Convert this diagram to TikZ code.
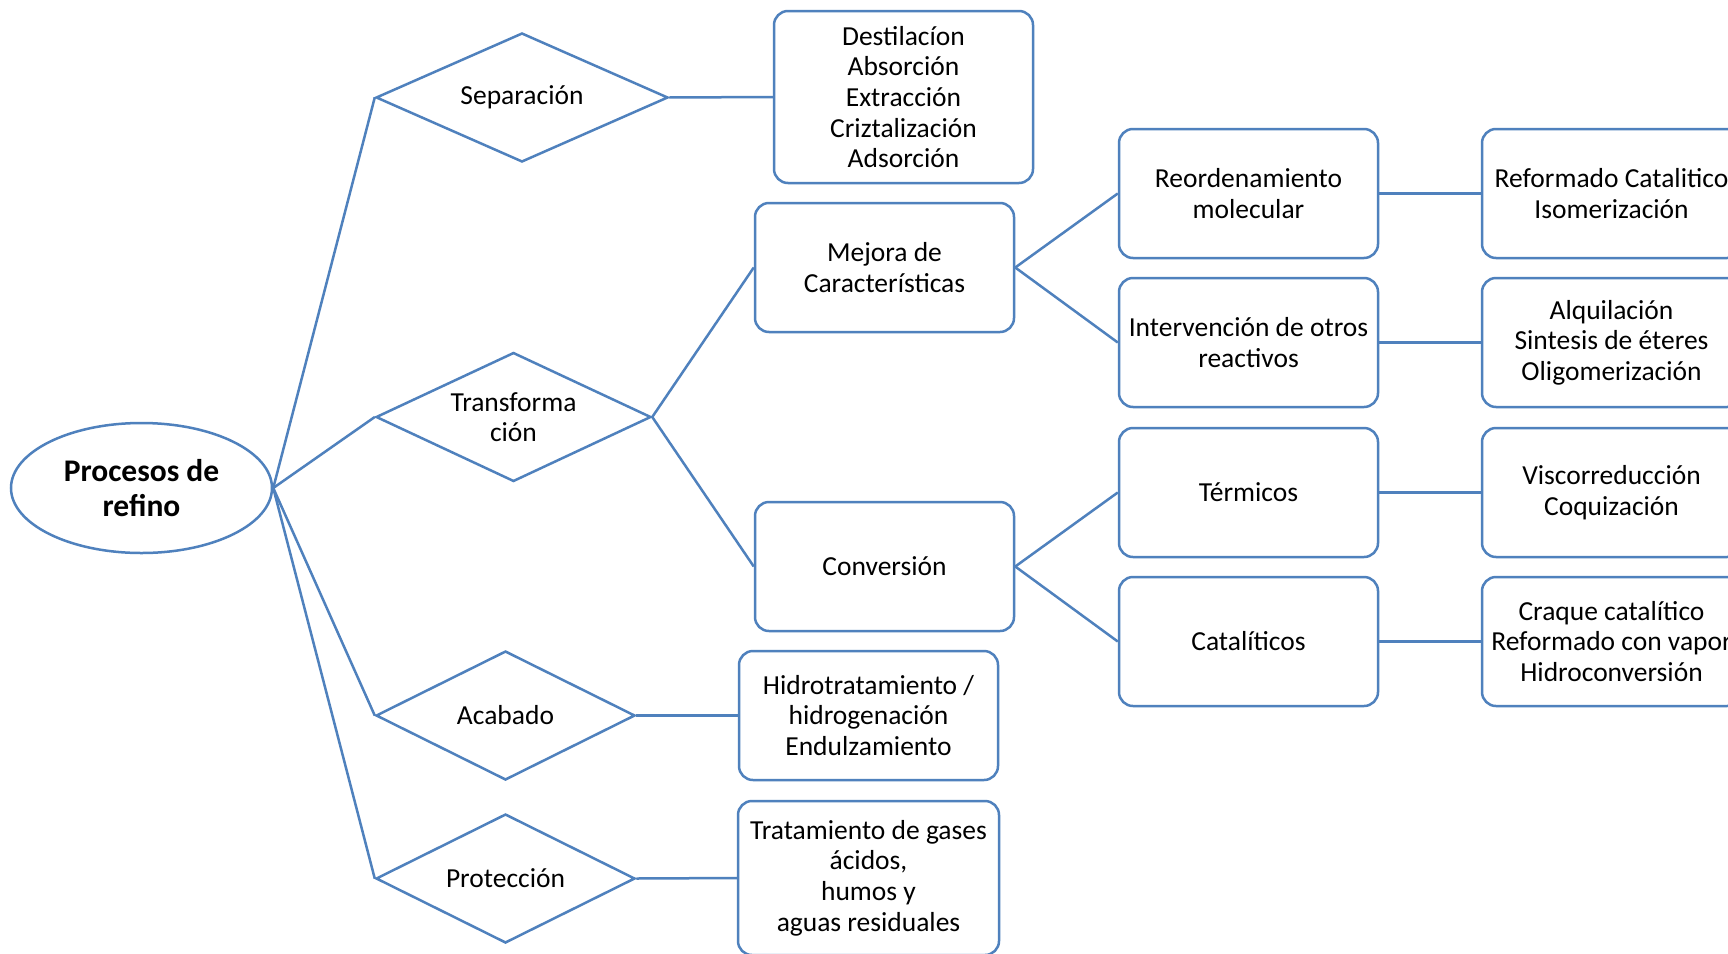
\documentclass[tikz,border=0pt]{standalone}
\usepackage{fontspec}
\setmainfont{Carlito}
\usetikzlibrary{shapes.geometric}
\definecolor{linea}{HTML}{4F81BD}
\begin{document}
\begin{tikzpicture}[x=1pt,y=-1pt,
  every node/.style={font=\fontsize{27.5}{30.6}\selectfont, align=center, inner sep=0pt},
  raiz/.style={ellipse, draw=linea, line width=2.5pt, minimum width=261pt, minimum height=130pt,
    font=\fontsize{31.5}{34.5}\selectfont\bfseries},
  rombo/.style={diamond, draw=linea, line width=2.5pt, aspect=2.2, minimum height=129pt},
  caja/.style={rectangle, rounded corners=14pt, draw=linea, line width=2.5pt,
    minimum width=259pt, minimum height=129pt},
  enlace/.style={draw=linea, line width=2.5pt}]
\clip (0,0) rectangle (1728,953);
\fill[white] (0,0) rectangle (1728,953);

% raíz
\node[raiz] (root) at (141.5,488) {Procesos de\\refino};

% tipos de proceso
\node[rombo, minimum width=292pt] (sep)   at (522,97.5)  {Separación};
\node[rombo, minimum width=275pt] (trans) at (513.5,417) {Transforma\\ción};
\node[rombo, minimum width=259pt] (acab)  at (505.5,715.5) {Acabado};
\node[rombo, minimum width=259pt] (prot)  at (505.5,878.5) {Protección};

% segundo nivel
\node[caja, minimum height=172pt] (seplist) at (903.5,97) {Destilacíon\\Absorción\\Extracción\\Criztalización\\Adsorción};
\node[caja] (mejora) at (884.5,267.5) {Mejora de\\Características};
\node[caja] (conv)   at (884.5,566.5) {Conversión};
\node[caja] (hidro)  at (868.5,715.5) {Hidrotratamiento /\\hidrogenación\\Endulzamiento};
\node[caja, minimum width=261pt, minimum height=154pt] (trat) at (868.5,878) {Tratamiento de gases\\ácidos,\\humos y\\aguas residuales};

% tercer nivel
\node[caja] (reord)  at (1248.5,193.5) {Reordenamiento\\molecular};
\node[caja] (interv) at (1248.5,342.5) {Intervención de otros\\reactivos};
\node[caja] (term)   at (1248.5,492.5) {Térmicos};
\node[caja] (catal)  at (1248.5,641.5) {Catalíticos};

% procesos concretos
\node[caja] (p1) at (1611.5,193.5) {Reformado Catalitico\\Isomerización};
\node[caja] (p2) at (1611.5,342.5) {Alquilación\\Sintesis de éteres\\Oligomerización};
\node[caja] (p3) at (1611.5,492.5) {Viscorreducción\\Coquización};
\node[caja] (p4) at (1611.5,641.5) {Craque catalítico\\Reformado con vapor\\Hidroconversión};

% conectores
\draw[enlace] (root.east) -- (sep.west);
\draw[enlace] (root.east) -- (trans.west);
\draw[enlace] (root.east) -- (acab.west);
\draw[enlace] (root.east) -- (prot.west);
\draw[enlace] (sep.east) -- (seplist.west);
\draw[enlace] (trans.east) -- (mejora.west);
\draw[enlace] (trans.east) -- (conv.west);
\draw[enlace] (acab.east) -- (hidro.west);
\draw[enlace] (prot.east) -- (trat.west);
\draw[enlace] (mejora.east) -- (reord.west);
\draw[enlace] (mejora.east) -- (interv.west);
\draw[enlace] (conv.east) -- (term.west);
\draw[enlace] (conv.east) -- (catal.west);
\draw[enlace] (reord.east) -- (p1.west);
\draw[enlace] (interv.east) -- (p2.west);
\draw[enlace] (term.east) -- (p3.west);
\draw[enlace] (catal.east) -- (p4.west);
\end{tikzpicture}
\end{document}
